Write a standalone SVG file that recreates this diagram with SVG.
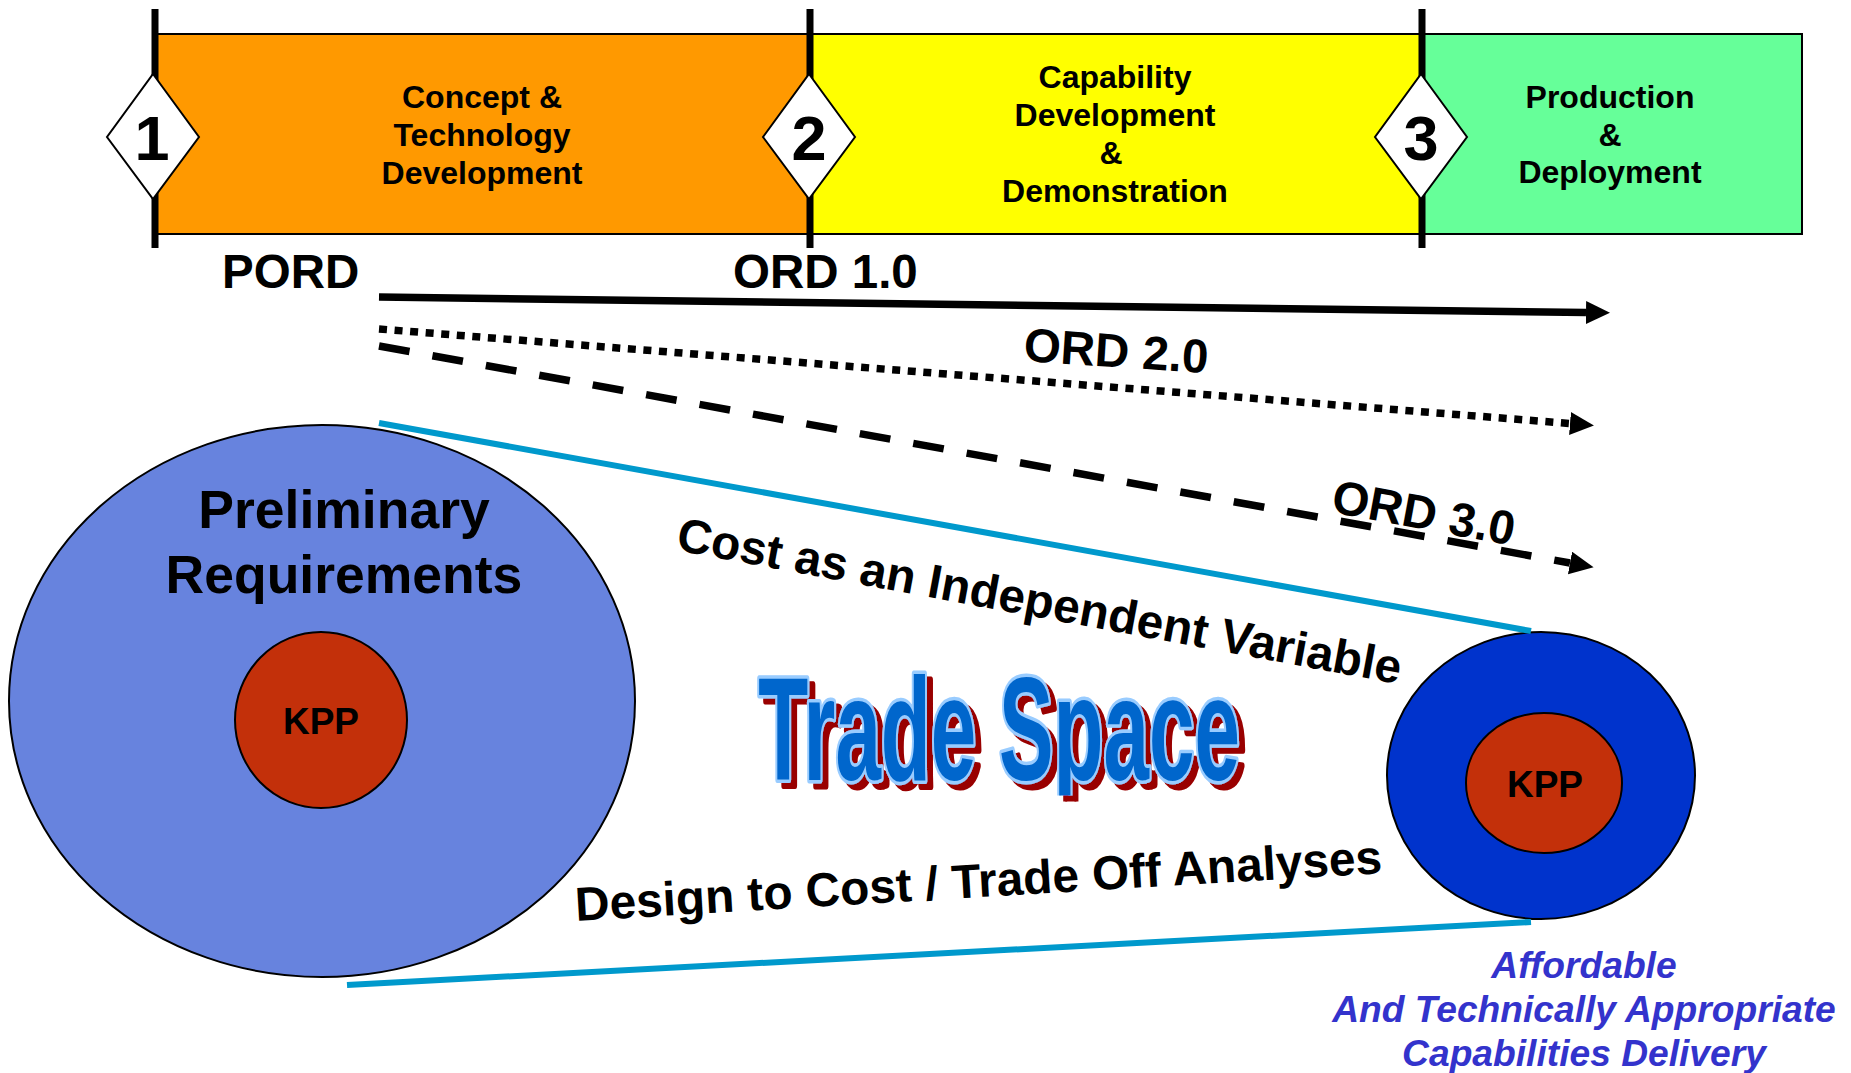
<svg xmlns="http://www.w3.org/2000/svg" width="1851" height="1073" viewBox="0 0 1851 1073">
  <style>
    text { font-family: "Liberation Sans", Arial, sans-serif; font-weight: bold; fill: #000; }
    .phase { font-size: 32px; text-anchor: middle; }
    .ms { font-size: 63px; text-anchor: middle; }
    .ord { font-size: 47.5px; }
    .side { font-size: 47.8px; }
    .kpp { font-size: 37px; text-anchor: middle; }
    .req { font-size: 53.5px; text-anchor: middle; }
    .goal { font-size: 37.2px; font-style: italic; text-anchor: middle; fill: #3333CC; }
    .bar { stroke: #000; stroke-width: 2; }
    .gate { stroke: #000; stroke-width: 7; }
    .diamond { fill: #fff; stroke: #000; stroke-width: 2; }
    .ordline { fill: none; stroke: #000; stroke-width: 7.5; }
    .cone { fill: none; stroke: #0099CC; stroke-width: 6; }
    .ts { font-size: 146px; text-anchor: middle; fill: #0066CC; stroke: #99CCFF; stroke-width: 7; stroke-linejoin: round; paint-order: stroke; }
  </style>
  <defs>
    <marker id="head" markerUnits="userSpaceOnUse" markerWidth="26" markerHeight="24" refX="0" refY="11.5" orient="auto">
      <path d="M0,0 L24,11.5 L0,23 Z" fill="#000"/>
    </marker>
    <!-- dark red drop shadow; dx is in the horizontally squeezed title space -->
    <filter id="dropShadow" x="-5%" y="-10%" width="115%" height="130%">
      <feOffset in="SourceAlpha" dx="10.7" dy="6" result="off"/>
      <feFlood flood-color="#990000"/>
      <feComposite in2="off" operator="in" result="shade"/>
      <feMerge>
        <feMergeNode in="shade"/>
        <feMergeNode in="SourceGraphic"/>
      </feMerge>
    </filter>
    <!-- keeps the descender of the title short -->
    <clipPath id="titleClip" clipPathUnits="userSpaceOnUse">
      <rect x="-1200" y="-200" width="2400" height="215.5"/>
    </clipPath>
  </defs>

  <rect width="1851" height="1073" fill="#fff"/>

  <!-- acquisition phases -->
  <g id="phase-concept">
    <rect class="bar" x="155" y="34" width="655" height="200" fill="#FF9900"/>
    <text class="phase" x="482" y="108">Concept &amp;</text>
    <text class="phase" x="482" y="146">Technology</text>
    <text class="phase" x="482" y="184">Development</text>
  </g>
  <g id="phase-capability">
    <rect class="bar" x="810" y="34" width="612" height="200" fill="#FFFF00"/>
    <text class="phase" x="1115" y="88">Capability</text>
    <text class="phase" x="1115" y="126">Development</text>
    <text class="phase" x="1111" y="164">&amp;</text>
    <text class="phase" x="1115" y="202">Demonstration</text>
  </g>
  <g id="phase-production">
    <rect class="bar" x="1422" y="34" width="380" height="200" fill="#66FF99"/>
    <text class="phase" x="1610" y="108">Production</text>
    <text class="phase" x="1610" y="146">&amp;</text>
    <text class="phase" x="1610" y="183">Deployment</text>
  </g>

  <!-- milestones -->
  <g id="milestone-1">
    <line class="gate" x1="155" y1="9" x2="155" y2="248"/>
    <polygon class="diamond" points="153,74 199,137 153,199 107,137"/>
    <text class="ms" x="152" y="160">1</text>
  </g>
  <g id="milestone-2">
    <line class="gate" x1="810" y1="9" x2="810" y2="248"/>
    <polygon class="diamond" points="809,74 855,137 809,199 763,137"/>
    <text class="ms" x="809" y="160">2</text>
  </g>
  <g id="milestone-3">
    <line class="gate" x1="1422" y1="9" x2="1422" y2="248"/>
    <polygon class="diamond" points="1421,74 1467,137 1421,199 1375,137"/>
    <text class="ms" x="1421" y="160">3</text>
  </g>

  <!-- requirement document labels -->
  <g id="label-pord"><text class="ord" x="222" y="288">PORD</text></g>
  <g id="label-ord1"><text class="ord" x="733" y="288">ORD 1.0</text></g>
  <g id="label-ord2"><text class="ord" x="1023" y="361" transform="rotate(3.8 1023 361)">ORD 2.0</text></g>

  <!-- requirement sets -->
  <g id="preliminary-requirements">
    <ellipse cx="322" cy="701" rx="313" ry="276" fill="#6783DE" stroke="#000" stroke-width="2"/>
    <text class="req" x="344" y="528">Preliminary</text>
    <text class="req" x="344" y="593">Requirements</text>
  </g>
  <g id="kpp-initial">
    <ellipse cx="321" cy="720" rx="86" ry="88" fill="#C3300A" stroke="#000" stroke-width="2"/>
    <text class="kpp" x="321" y="734">KPP</text>
  </g>
  <g id="delivered-capability">
    <ellipse cx="1541" cy="775.5" rx="154" ry="143.5" fill="#0033CC" stroke="#000" stroke-width="2"/>
  </g>
  <g id="kpp-final">
    <ellipse cx="1544" cy="783" rx="78" ry="70" fill="#C3300A" stroke="#000" stroke-width="2"/>
    <text class="kpp" x="1545" y="797">KPP</text>
  </g>

  <!-- connectors -->
  <g id="connectors">
    <line class="ordline" x1="379" y1="297" x2="1586" y2="312.5" marker-end="url(#head)"/>
    <line class="ordline" x1="379" y1="329" x2="1570" y2="423.5" stroke-dasharray="8 7.6" marker-end="url(#head)"/>
    <line class="ordline" x1="379" y1="346" x2="1570" y2="563" stroke-dasharray="31 23.3" marker-end="url(#head)"/>
    <line class="cone" x1="379" y1="423" x2="1531" y2="631"/>
    <line class="cone" x1="347" y1="985" x2="1531" y2="922"/>
  </g>

  <g id="label-ord3"><text class="ord" x="1330" y="512" transform="rotate(10.5 1330 512)">ORD 3.0</text></g>

  <g id="label-caiv"><text class="side" x="675" y="550" transform="rotate(10.5 675 550)">Cost as an Independent Variable</text></g>
  <g id="label-dtc"><text class="side" x="576" y="921" transform="rotate(-3.4 576 921)">Design to Cost / Trade Off Analyses</text></g>

  <!-- trade space title: dark red drop shadow, light blue rim, blue face -->
  <g id="trade-space" transform="translate(999 780) scale(0.56 1)" filter="url(#dropShadow)">
    <g clip-path="url(#titleClip)">
      <text class="ts" x="0" y="0">Trade Space</text>
    </g>
  </g>

  <g id="outcome">
    <text class="goal" x="1584" y="978">Affordable</text>
    <text class="goal" x="1584" y="1022">And Technically Appropriate</text>
    <text class="goal" x="1584" y="1066">Capabilities Delivery</text>
  </g>
</svg>
